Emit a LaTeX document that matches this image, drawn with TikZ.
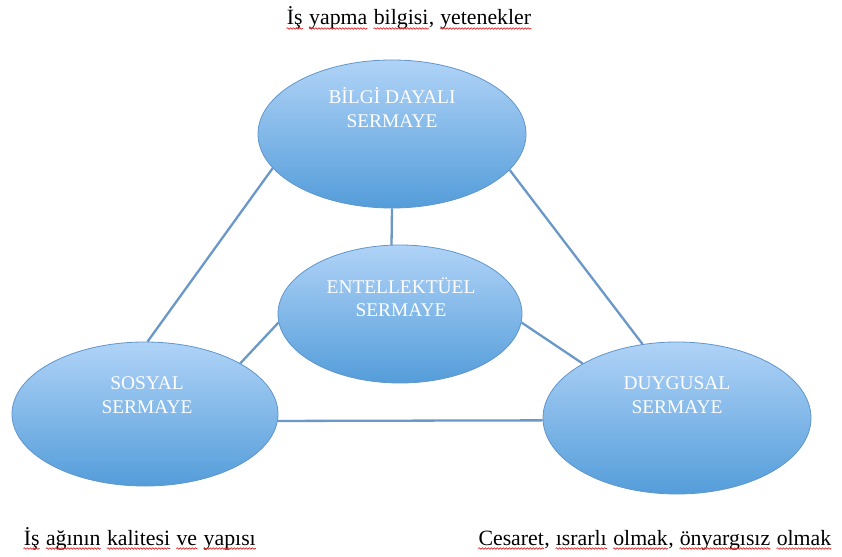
\documentclass[tikz,border=0pt]{standalone}
\usepackage{fontspec}
\setmainfont{Liberation Serif}
\usetikzlibrary{shapes.geometric,decorations.pathmorphing}

\definecolor{spellred}{RGB}{226,40,40}
\definecolor{captop}{RGB}{176,211,247}
\definecolor{capbot}{RGB}{84,157,218}
\definecolor{capedge}{RGB}{96,150,204}
\definecolor{linkblue}{RGB}{106,152,200}

% a word with a red wavy underline
\newcommand\spellwave[1]{\tikz[baseline=(wd.base),x=1pt,y=1pt]{%
  \node[inner sep=0pt] (wd) {#1};
  \draw[spellred, line width=0.7pt, decorate,
        decoration={snake, amplitude=0.75pt, segment length=3pt}]
    ([yshift=-3.5pt]wd.base west) -- ([yshift=-3.5pt]wd.base east);}}

\begin{document}
\begin{tikzpicture}[x=1pt,y=-1pt,
  capital/.style={ellipse, draw=capedge, line width=0.8pt, top color=captop, bottom color=capbot, inner sep=0pt},
  captext/.style={text=white, align=center, font=\fontsize{19.4}{23.5}\selectfont, inner sep=0pt},
  link/.style={draw=linkblue, line width=2.3pt},
  note/.style={font=\fontsize{21.8}{26}\selectfont, inner sep=0pt}]

\useasboundingbox (0,0) rectangle (842,556);
\fill[white] (0,0) rectangle (842,556);

% the four capital ellipses
\node[capital, minimum width=268pt, minimum height=148pt] (bilgi) at (392,134) {};
\node[capital, minimum width=244pt, minimum height=138pt] (entel) at (400,314) {};
\node[capital, minimum width=266pt, minimum height=144pt] (sosyal) at (145,414) {};
\node[capital, minimum width=268pt, minimum height=152pt] (duygu) at (677,418) {};

% their captions
\node[captext] (bilgiT) at (392,107.5) {BİLGİ DAYALI\\SERMAYE};
\node[captext] (entelT) at (401,297) {ENTELLEKTÜEL\\SERMAYE};
\node[captext] (sosyalT) at (147,395) {SOSYAL\\SERMAYE};
\node[captext] (duyguT) at (677,395) {DUYGUSAL\\SERMAYE};

% connecting lines
\draw[link] (bilgi.196.6) -- (sosyal.88);
\draw[link] (bilgi.343.7) -- (duygu.115);
\draw[link] (bilgi.south) -- (entel.97);
\draw[link] (entel.184) -- (sosyal.28);
\draw[link] (entel.356) -- (duygu.150);
\draw[link] (sosyal.357) -- (duygu.181);

% notes
\node[note, anchor=base] (topnote) at (409,25)
  {\spellwave{İş} \spellwave{yapma} \spellwave{bilgisi}, \spellwave{yetenekler}};
\node[note, anchor=base west] (leftnote) at (23,545)
  {\spellwave{İş} \spellwave{ağının} \spellwave{kalitesi} \spellwave{ve} \spellwave{yapısı}};
\node[note, anchor=base east] (rightnote) at (832,545)
  {\spellwave{Cesaret}, \spellwave{ısrarlı} \spellwave{olmak}, \spellwave{önyargısız} \spellwave{olmak}};
\end{tikzpicture}
\end{document}
